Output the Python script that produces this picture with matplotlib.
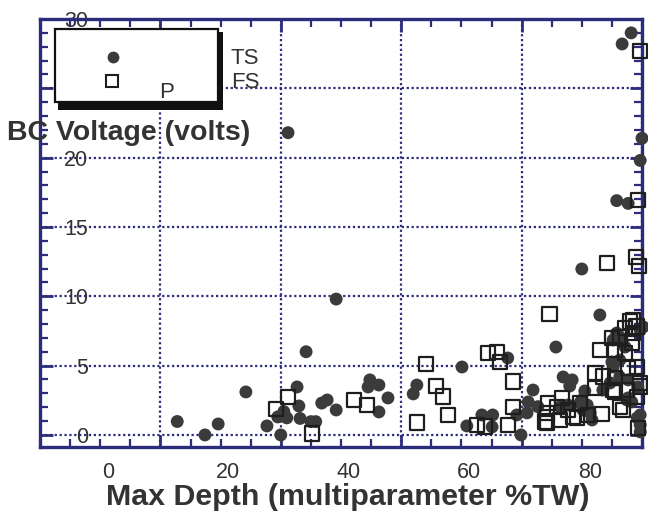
import matplotlib
matplotlib.use("Agg")
import matplotlib.pyplot as plt
from matplotlib.patches import Rectangle
from matplotlib.lines import Line2D
from matplotlib.ticker import MultipleLocator

plt.rcParams['font.family'] = ['Liberation Sans', 'DejaVu Sans']

# --- data: max depth (%TW) vs bobbin-coil voltage ---
ts_depth = [22.8, 27.4, 29.6, 34.2, 37.7, 40.0, 40.5, 41.0, 39.5, 42.7, 43.0, 43.2,
            45.0, 45.8, 46.8, 47.7, 49.2, 44.2, 41.2, 49.2, 54.8, 54.5, 56.3, 57.8,
            56.3, 62.6, 62.0, 70.1, 77.7, 70.9, 73.4, 75.2, 75.1, 79.9, 81.9, 81.1,
            80.9, 82.7, 79.2, 90.0, 93.0, 85.7, 86.9, 88.4, 88.0, 90.5, 89.7, 90.9,
            91.4, 91.7, 86.4, 87.7, 93.5, 95.2, 96.3, 97.2, 99.7, 100.2, 95.2, 96.3,
            94.7, 97.5, 98.3, 99.7, 99.7, 99.7, 99.7, 95.8, 97.7, 98.2, 96.7, 100.0,
            95.8, 96.3, 95.0, 97.7, 99.3, 97.7, 90.0, 90.2, 99.2]
ts_volts = [0.97, 0.0, 0.79, 3.1, 0.65, 0.0, 1.68, 1.23, 1.3, 3.46, 2.09, 1.19,
            0.96, 0.96, 2.3, 2.52, 1.8, 6.0, 21.8, 9.8, 3.97, 3.46, 3.6, 2.67,
            1.66, 3.6, 2.96, 4.9, 5.55, 0.65, 1.44, 1.44, 0.58, 0.0, 3.24, 2.38,
            1.59, 2.04, 1.44, 11.97, 8.65, 6.34, 4.18, 3.97, 3.53, 3.17, 2.31, 2.16,
            1.59, 1.08, 2.02, 2.16, 3.24, 6.85, 7.07, 6.34, 7.57, 7.79, 4.9, 4.18,
            3.75, 2.52, 2.38, 1.44, 0.72, 0.22, 19.8, 16.9, 16.7, 29.0, 28.2, 21.4,
            7.35, 5.4, 5.26, 3.97, 3.46, 2.67, 2.52, 1.8, 1.23]

fs_depth = [39.2, 41.2, 45.2, 52.2, 54.3, 64.1, 62.6, 65.8, 66.9, 67.8, 74.4, 75.9,
            76.4, 78.6, 78.6, 72.6, 73.9, 77.7, 83.9, 84.4, 84.6, 94.2, 99.0, 99.5,
            99.7, 99.3, 86.4, 86.7, 89.2, 91.0, 93.0, 92.2, 93.5, 93.3, 95.2, 96.8,
            98.0, 99.1, 98.5, 98.3, 99.7, 99.3, 98.5, 97.2, 95.0, 96.3, 95.5, 97.2,
            97.7, 99.2, 95.5, 92.2, 95.5, 97.5, 96.3, 99.7, 99.2, 89.7, 87.7, 85.9,
            84.2, 84.2, 88.5]
fs_volts = [1.87, 2.74, 0.11, 2.52, 2.16, 5.12, 0.89, 3.53, 2.76, 1.44, 5.89, 6.0,
            5.26, 3.84, 2.02, 0.72, 0.6, 0.72, 0.96, 2.29, 8.72, 12.4, 12.85, 12.18,
            27.7, 16.94, 1.08, 2.65, 1.23, 1.44, 6.13, 4.47, 4.2, 1.51, 3.24, 1.8,
            8.17, 7.81, 7.35, 6.63, 3.48, 0.5, 8.29, 7.71, 6.99, 7.07, 6.13, 5.91,
            4.83, 4.9, 4.11, 3.39, 3.1, 3.24, 2.02, 3.75, 2.74, 2.31, 1.8, 2.02,
            1.59, 0.87, 1.3]

depth_ticks = [0, 20, 40, 60, 80]
volt_ticks = [0, 5, 10, 15, 20, 25, 30]
label_shift = 11.3   # printed depth scale is offset from the grid

W, H = 648, 521
NAVY = '#2c2c7c'
TEXT = '#333333'


def fx(px):
    return px / W


def fy(py):
    return 1 - py / H


fig = plt.figure(figsize=(W / 100, H / 100), dpi=100)
ax = fig.add_axes([fx(40), fy(447), fx(642) - fx(40), fy(19) - fy(447)])

ax.set_xlim(0, 100)
ax.set_ylim(-0.87, 30)

ax.scatter(ts_depth, ts_volts, s=86, c='#3b3b3b', edgecolors='none',
           zorder=3, clip_on=False)
ax.scatter(fs_depth, fs_volts, s=108, marker='s', facecolors='none',
           edgecolors='#1e1e1e', linewidths=1.6, zorder=4, clip_on=False)

# grid + frame
ax.xaxis.set_major_locator(MultipleLocator(20))
ax.xaxis.set_minor_locator(MultipleLocator(5))
ax.yaxis.set_major_locator(MultipleLocator(5))
ax.yaxis.set_minor_locator(MultipleLocator(1))
ax.grid(True, which='major', linestyle=(0, (1, 1.2)), color=NAVY, linewidth=1.6)
ax.set_axisbelow(True)
for sp in ax.spines.values():
    sp.set_color(NAVY)
    sp.set_linewidth(2.4)

ax.tick_params(which='both', direction='in', color=NAVY, top=True, right=True)
ax.tick_params(which='major', length=9, width=2)
ax.tick_params(which='minor', length=6, width=1.6)
ax.tick_params(axis='x', labelbottom=False)
ax.tick_params(axis='y', labelsize=15.5, labelcolor=TEXT, pad=-34.5)
ax.set_yticks(volt_ticks)
for lbl in ax.get_yticklabels():
    lbl.set_horizontalalignment('right')

# printed depth labels
sec = ax.secondary_xaxis('bottom', functions=(lambda x: x - label_shift,
                                              lambda x: x + label_shift))
sec.set_xticks(depth_ticks)
sec.spines['bottom'].set_visible(False)
sec.tick_params(length=0, pad=11, labelsize=15.5, labelcolor=TEXT)

fig.text(fx(348), fy(497), 'Max Depth (multiparameter %TW)', ha='center',
         va='center', fontsize=21.9, fontweight='bold', color=TEXT)
fig.text(fx(7), fy(133), 'BC Voltage (volts)', ha='left', va='center',
         fontsize=20.5, fontweight='bold', color=TEXT, zorder=10)

# key box with drop shadow
fig.add_artist(Rectangle((fx(58), fy(110)), fx(223) - fx(58), fy(32) - fy(110),
                         transform=fig.transFigure, facecolor='#111111',
                         edgecolor='none', zorder=6))
fig.add_artist(Rectangle((fx(55), fy(102)), fx(218) - fx(55), fy(29) - fy(102),
                         transform=fig.transFigure, facecolor='white',
                         edgecolor='#111111', linewidth=1.6, zorder=7))
fig.add_artist(Line2D([fx(113)], [fy(57)], transform=fig.transFigure, marker='o',
                      markersize=7.5, color='#3b3b3b', linestyle='none', zorder=8))
fig.add_artist(Line2D([fx(112)], [fy(81)], transform=fig.transFigure, marker='s',
                      markersize=8.5, markerfacecolor='none', markeredgecolor='#1e1e1e',
                      markeredgewidth=1.5, linestyle='none', zorder=8))
fig.text(fx(231), fy(58), 'TS', ha='left', va='center', fontsize=16, color=TEXT, zorder=9)
fig.text(fx(231), fy(83), 'FS', ha='left', va='center', fontsize=16, color=TEXT, zorder=9)
fig.text(fx(167), fy(92), 'P', ha='center', va='center', fontsize=16, color=TEXT, zorder=9)

fig.savefig('out.png', dpi=100, facecolor='white')
